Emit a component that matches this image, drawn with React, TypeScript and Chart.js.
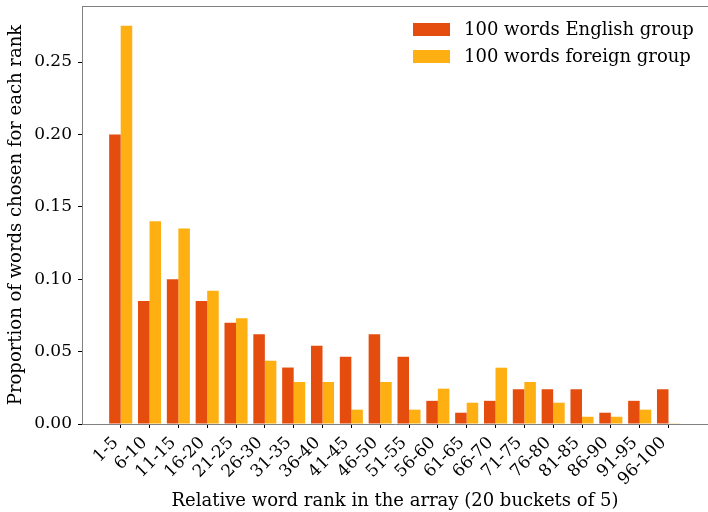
import React, { useEffect, useRef } from "react";
import { Chart, registerables } from "chart.js";

Chart.register(...registerables);

const categories = ["1-5","6-10","11-15","16-20","21-25","26-30","31-35","36-40","41-45","46-50","51-55","56-60","61-65","66-70","71-75","76-80","81-85","86-90","91-95","96-100"];
const englishValues = [0.2, 0.085, 0.1, 0.085, 0.07, 0.062, 0.039, 0.054, 0.0465, 0.062, 0.0465, 0.016, 0.0078, 0.016, 0.024, 0.024, 0.024, 0.0078, 0.016, 0.024];
const foreignValues = [0.275, 0.14, 0.135, 0.092, 0.073, 0.0437, 0.029, 0.029, 0.0099, 0.029, 0.0099, 0.0244, 0.0147, 0.0389, 0.029, 0.0147, 0.005, 0.005, 0.0099, 0.0005];
const yTicks = [0, 0.05, 0.1, 0.15, 0.2, 0.25];
const seriesNames = ["100 words English group", "100 words foreign group"];
const seriesColors = ["#e54d0e", "#feb013"];

const FONT = "'DejaVu Serif', serif";
const SPINE = "#808080";

const framePlugin = {
  id: "frame",
  afterDraw(chart: any) {
    const { ctx, chartArea } = chart;
    ctx.save();
    ctx.strokeStyle = SPINE;
    ctx.lineWidth = 1;
    ctx.beginPath();
    ctx.moveTo(chartArea.left, chartArea.top + 0.5);
    ctx.lineTo(chartArea.right, chartArea.top + 0.5);
    ctx.stroke();
    // legend
    const ds = chart.data.datasets;
    ctx.font = "18px " + FONT;
    ctx.textBaseline = "middle";
    ctx.textAlign = "left";
    ds.forEach((d: any, i: number) => {
      const y = 23 + i * 27;
      ctx.fillStyle = d.backgroundColor;
      ctx.fillRect(413, y, 37, 13);
      ctx.fillStyle = "#000";
      ctx.fillText(d.label, 464, y + 7);
    });
    ctx.restore();
  },
};

export default function App() {
  const ref = useRef<HTMLCanvasElement>(null);
  useEffect(() => {
    const canvas = ref.current!;
    const chart = new Chart(canvas, {
      type: "bar",
      data: {
        datasets: [
          {
            label: seriesNames[0],
            data: englishValues.map((v, i) => ({ x: i, y: v })),
            backgroundColor: seriesColors[0],
            barPercentage: 1,
            categoryPercentage: 0.8,
          },
          {
            label: seriesNames[1],
            data: foreignValues.map((v, i) => ({ x: i, y: v })),
            backgroundColor: seriesColors[1],
            barPercentage: 1,
            categoryPercentage: 0.8,
          },
        ],
      },
      options: {
        responsive: false,
        animation: false,
        layout: { padding: { top: 6, right: 0, left: 0, bottom: 0 } },
        plugins: { legend: { display: false }, tooltip: { enabled: false } },
        scales: {
          x: {
            type: "linear",
            min: -1.342,
            max: 20.37,
            offset: false,
            afterBuildTicks: (s: any) => {
              s.ticks = categories.map((_, i) => ({ value: i }));
            },
            afterFit: (s: any) => {
              s.height = 88;
              s.paddingLeft = 0;
              s.paddingRight = 0;
            },
            ticks: {
              autoSkip: false,
              minRotation: 45,
              maxRotation: 45,
              color: "#000",
              font: { family: FONT, size: 17 },
              padding: 5,
              labelOffset: -5,
              callback: (v: any) => categories[v] ?? "",
            },
            grid: { drawOnChartArea: false, offset: false, tickLength: 4, tickColor: "#000" },
            border: { color: SPINE, width: 1 },
            title: {
              display: true,
              text: "Relative word rank in the array (20 buckets of 5)",
              color: "#000",
              font: { family: FONT, size: 18 },
              padding: { top: 0, bottom: 0 },
            },
          },
          y: {
            min: 0,
            max: 0.2887,
            afterBuildTicks: (s: any) => {
              s.ticks = yTicks.map((v) => ({ value: v }));
            },
            afterFit: (s: any) => {
              s.width = 82;
              s.paddingTop = 0;
              s.paddingBottom = 0;
            },
            ticks: {
              color: "#000",
              font: { family: FONT, size: 17 },
              padding: 6,
              callback: (v: any) => Number(v).toFixed(2),
            },
            grid: { drawOnChartArea: false, tickLength: 4, tickColor: "#000" },
            border: { color: SPINE, width: 1 },
            title: {
              display: true,
              text: "Proportion of words chosen for each rank",
              color: "#000",
              font: { family: FONT, size: 18 },
              padding: { top: 6, bottom: 0 },
            },
          },
        },
      },
      plugins: [framePlugin],
    });
    return () => chart.destroy();
  }, []);
  return (
    <div style={{ position: "fixed", left: 0, top: 0, width: 708, height: 512, background: "#fff" }}>
      <canvas ref={ref} width={708} height={512} style={{ width: 708, height: 512 }} />
    </div>
  );
}
